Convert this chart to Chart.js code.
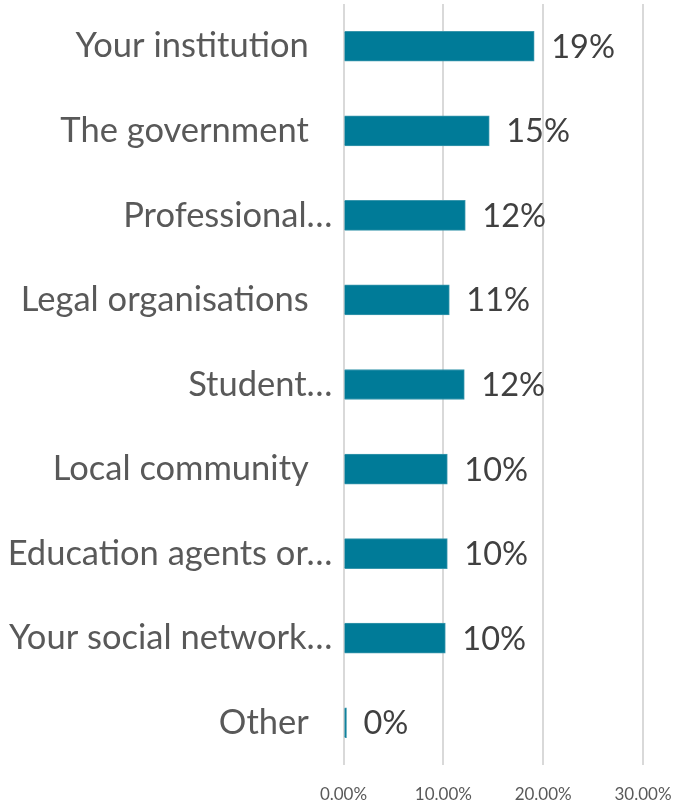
<!DOCTYPE html>
<html>
<head>
<meta charset="utf-8">
<script src="https://cdn.jsdelivr.net/npm/chart.js@4"></script>
<style>
    html, body { margin: 0; padding: 0; background: #ffffff; }
    #wrap { width: 677px; height: 802px; position: relative; }
</style>
</head>
<body>
<div id="wrap"><canvas id="sourcesChart"></canvas></div>
<script>
// Values (percent of respondents)
const categories = [
    'Your institution',
    'The government',
    'Professional…',
    'Legal organisations',
    'Student…',
    'Local community',
    'Education agents or…',
    'Your social network…',
    'Other'
];
const shares = [19.1, 14.6, 12.2, 10.6, 12.1, 10.4, 10.4, 10.2, 0.3];
const xTicks = [0, 10, 20, 30];

const barColor = '#007b98';
const labelColor = '#595959';
const valueColor = '#404040';
const fontFamily = 'Lato, "Open Sans", sans-serif';

// Value labels drawn to the right of each bar
const valueLabels = {
    id: 'valueLabels',
    afterDatasetsDraw(chart) {
        const ctx = chart.ctx;
        const meta = chart.getDatasetMeta(0);
        ctx.save();
        ctx.font = '32.5px ' + fontFamily;
        ctx.fillStyle = valueColor;
        ctx.textAlign = 'left';
        ctx.textBaseline = 'middle';
        meta.data.forEach((bar, i) => {
            ctx.fillText(Math.round(shares[i]) + '%', bar.x + 17, bar.y + 1);
        });
        ctx.restore();
    }
};

document.addEventListener('DOMContentLoaded', () => {
    const ctx = document.getElementById('sourcesChart').getContext('2d');
    new Chart(ctx, {
        type: 'bar',
        data: {
            labels: categories,
            datasets: [{
                data: shares,
                backgroundColor: barColor,
                borderColor: '#3a97ad',
                borderWidth: 1,
                barThickness: 30
            }]
        },
        options: {
            indexAxis: 'y',
            responsive: true,
            maintainAspectRatio: false,
            animation: false,
            layout: { padding: { top: 4, right: 34, bottom: 0, left: 0 } },
            plugins: {
                legend: { display: false },
                tooltip: { enabled: false }
            },
            scales: {
                x: {
                    min: 0,
                    max: 30,
                    afterBuildTicks: scale => {
                        scale.ticks = xTicks.map(v => ({ value: v }));
                    },
                    afterFit: scale => {
                        scale.height = 37;
                        scale.paddingLeft = 0;
                        scale.paddingRight = 0;
                    },
                    ticks: {
                        color: labelColor,
                        font: { family: fontFamily, size: 17 },
                        padding: 19,
                        maxRotation: 0,
                        callback: v => v.toFixed(2) + '%'
                    },
                    grid: { color: '#d9d9d9', lineWidth: 2, drawTicks: false },
                    border: { display: false }
                },
                y: {
                    afterFit: scale => {
                        scale.width = 343.5;
                        scale.paddingTop = 0;
                        scale.paddingBottom = 0;
                    },
                    ticks: {
                        color: labelColor,
                        font: { family: fontFamily, size: 34.5 },
                        padding: 3,
                        // full labels sit a bit further from the axis than the cut-off ones
                        callback: function (v) {
                            const lab = this.getLabelForValue(v);
                            return lab.endsWith('…') ? lab : lab + '\u2002\u2009\u200A';
                        }
                    },
                    grid: { display: false },
                    border: { display: false }
                }
            }
        },
        plugins: [valueLabels]
    });
});
</script>
</body>
</html>
